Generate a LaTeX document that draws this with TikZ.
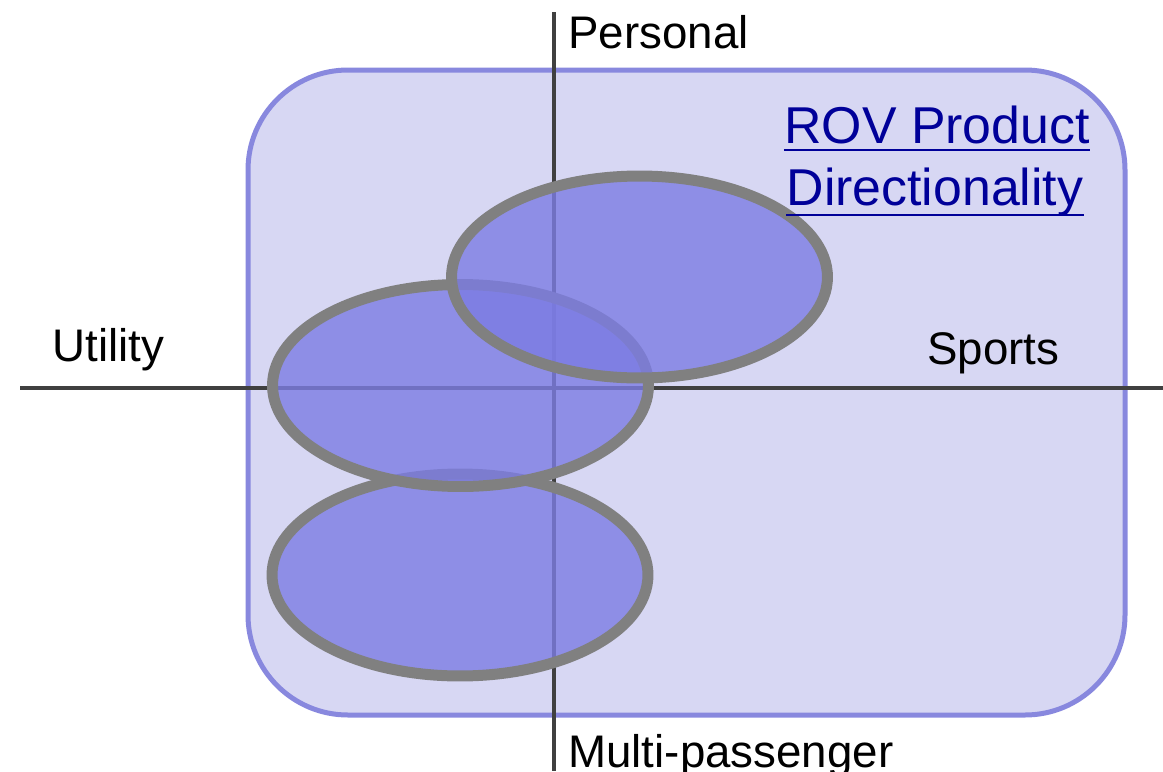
\documentclass[tikz,border=0pt]{standalone}
\usepackage{fontspec}
\setmainfont{Liberation Sans}
\usepackage{tikz}
\usetikzlibrary{shapes.geometric}

\definecolor{framefill}{RGB}{215,215,243}
\definecolor{frameline}{RGB}{136,136,222}
\definecolor{axisgray}{RGB}{64,64,64}
\definecolor{ovalfill}{RGB}{124,124,227}
\definecolor{ovalline}{RGB}{128,128,128}
\definecolor{titleblue}{RGB}{0,0,153}

\tikzset{
  axis/.style={axisgray, line width=0.09cm},
  oval/.style={ellipse, draw=ovalline, line width=0.22cm, fill=ovalfill,
    fill opacity=0.8, draw opacity=1, minimum width=7.52cm, minimum height=4.04cm},
  lbl/.style={anchor=base west, font=\fontsize{26}{30}\selectfont},
  ttl/.style={anchor=base, text=titleblue, font=\fontsize{29.5}{34}\selectfont}
}

\begin{document}
\begin{tikzpicture}[x=0.02cm, y=-0.02cm]
		\tikzstyle{every node}+=[inner sep=0pt]
		\useasboundingbox (0,0) rectangle (1163,771);
		% background panel
		\draw [frameline, fill=framefill, line width=0.1cm, rounded corners=2cm] (248,70) rectangle (1125,715);
		% the two axes
		\coordinate (ptop) at (554,12);
		\coordinate (pbot) at (554,771);
		\coordinate (uleft) at (20,388);
		\coordinate (sright) at (1163,388);
		\draw [axis] (ptop) -- (pbot);
		\draw [axis] (uleft) -- (sright);
		% axis labels
		\node [lbl] (personal) at (568,48) {Personal};
		\node [lbl] (utility) at (52,361) {Utility};
		\node [lbl] (sports) at (927,364) {Sports};
		\node [lbl] (multi) at (568,767) {Multi-passenger};
		% product ovals, lowest first
		\node [oval] (multioval) at (460,575) {};
		\node [oval] (utiloval) at (460.5,385.5) {};
		\node [oval] (sportoval) at (639.5,277) {};
		% heading
		\node [ttl] (ttlone) at (937,143) {ROV Product};
		\node [ttl] (ttltwo) at (935,205) {Directionality};
		\draw [titleblue, line width=0.05cm] ([yshift=-0.14cm]ttlone.base west) -- ([yshift=-0.14cm]ttlone.base east);
		\draw [titleblue, line width=0.05cm] ([yshift=-0.2cm]ttltwo.base west) -- ([yshift=-0.2cm]ttltwo.base east);
\end{tikzpicture}
\end{document}
